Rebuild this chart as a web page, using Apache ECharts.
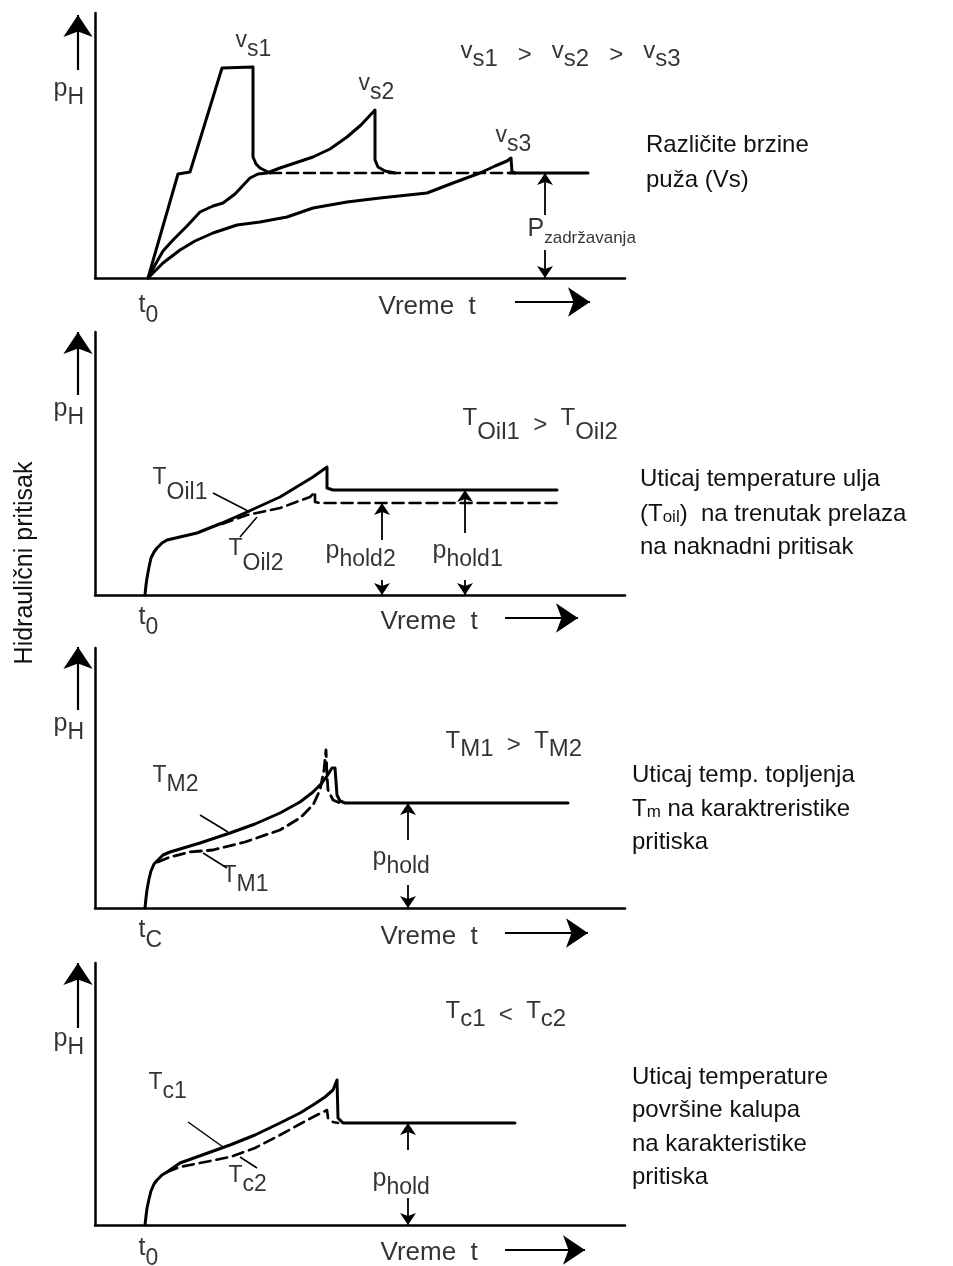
<!DOCTYPE html>
<html><head><meta charset="utf-8">
<script src="https://cdn.jsdelivr.net/npm/echarts@6/dist/echarts.min.js"></script>
<style>html,body{margin:0;padding:0;background:#fff}#c{width:953px;height:1266px}</style>
</head><body><div id="c"></div><script>
// ---- Data (time units / pressure units, schematic) ----
// Panel 1: different screw speeds
const vs1 = [[53,0],[83,104],[95,106],[127,210],[158,211],[158,121],[161,114],[165,110],[175,105]];
const vs2 = [[53,0],[60,13],[68,27],[78,38],[92,52],[105,66],[118,72],[128,75],[140,84],[155,100],[163,104],[172,105],[185,110],[200,115],[218,121],[235,129],[252,141],[266,153],[280,168],[280,118],[283,111],[290,107],[300,105]];
const vs3 = [[53,0],[68,15],[85,28],[100,37],[118,45],[142,53],[165,56],[192,61],[218,70],[252,76],[285,80],[332,85],[358,95],[385,105],[400,112],[412,117],[416,120],[417,106],[420,105]];
const hold1Dashed = [[175,105],[415,105]];
const hold1Solid = [[415,105],[493,105]];
// Panel 2: oil temperature
const toil1 = [[50,0],[51,10],[52,17],[54,28],[56,37],[59,43],[62,47],[67,52],[72,55],[102,62],[127,72],[152,83],[185,98],[218,118],[232,128],[232,107],[238,105],[462,105]];
const toil2 = [[127,71],[152,80],[185,87],[215,98],[220,103],[220,93],[225,92],[462,92]];
// Panel 3: melt temperature
const tm2 = [[50,0],[51,10],[52,18],[54,29],[56,37],[59,44],[63,48],[68,53],[75,56],[105,65],[135,75],[160,84],[185,95],[205,106],[218,116],[227,125],[232,132],[237,140],[240,140],[242,113],[245,107],[250,105],[473,105]];
const tm1 = [[63,46],[75,51],[95,56],[118,58],[150,66],[185,78],[205,90],[218,103],[225,118],[229,138],[231,158],[232,133],[233,118],[238,108],[245,105]];
// Panel 4: mould surface temperature
const tc1 = [[50,0],[51,9],[52,17],[54,26],[56,34],[59,41],[62,45],[67,50],[72,53],[85,62],[110,71],[135,80],[160,90],[185,102],[205,112],[218,120],[230,128],[238,135],[242,145],[243,107],[248,102],[420,102]];
const tc2 = [[72,53],[85,58],[110,63],[135,68],[160,77],[185,90],[205,101],[218,108],[232,115],[233,107],[238,103],[243,102]];

// Arrows [panel, from, to]
const holdArrows = [
  [0,[450,63],[450,105]],[0,[450,28],[450,0]],
  [1,[287,55],[287,92]],[1,[287,15],[287,0]],[1,[370,62],[370,105]],[1,[370,15],[370,0]],
  [2,[313,68],[313,105]],[2,[313,23],[313,0]],
  [3,[313,75],[313,102]],[3,[313,27],[313,0]]
];
const leaders = [
  [1,[118,102],[155,83]],[1,[145,58],[162,78]],
  [2,[105,93],[133,76]],[2,[132,40],[108,55]],
  [3,[93,103],[128,78]],[3,[162,57],[145,68]]
];
const yArrows = [[0,[-17,208],[-17,263]],[1,[-17,200],[-17,263]],[2,[-17,198],[-17,261]],[3,[-17,197],[-17,262]]];
const tArrows = [[0,[420,-24],[495,-24]],[1,[410,-23],[483,-23]],[2,[410,-25],[493,-25]],[3,[410,-25],[490,-25]]];

// Labels [panel, t, p, rich formatter]
const labels = [
  [0,140,233,'{m|v}{s|s1}'],[0,263,190,'{m|v}{s|s2}'],[0,400,138,'{m|v}{s|s3}'],
  [0,365,223,'{M|v}{S|s1}{G|   >   }{M|v}{S|s2}{G|   >   }{M|v}{S|s3}'],
  [0,432,46,'{P|P}{z|zadržavanja}'],
  [1,57,110,'{m|T}{s|Oil}{ss|1}'],[1,133,39,'{m|T}{s|Oil}{ss|2}'],
  [1,230,40,'{p|p}{s|hold2}'],[1,337,40,'{p|p}{s|hold1}'],
  [1,367,170,'{M|T}{S|Oil}{SS|1}{G|  >  }{M|T}{S|Oil}{SS|2}'],
  [2,57,128,'{m|T}{s|M2}'],[2,127,28,'{m|T}{s|M1}'],[2,277,46,'{p|p}{s|hold}'],
  [2,350,163,'{M|T}{S|M1}{G|  >  }{M|T}{S|M2}'],
  [3,53,138,'{m|T}{s|c1}'],[3,133,45,'{m|T}{s|c2}'],[3,277,42,'{p|p}{s|hold}'],
  [3,350,210,'{M|T}{S|c1}{G|  <  }{M|T}{S|c2}']
];
const axisLabels = [
  [0,-42,185,'{p|p}{s|H}'],[1,-42,182,'{p|p}{s|H}'],[2,-42,180,'{p|p}{s|H}'],[3,-42,182,'{p|p}{s|H}'],
  [0,43,-32,'{t|t}{s|0}'],[1,43,-27,'{t|t}{s|0}'],[2,43,-27,'{t|t}{s|C}'],[3,43,-28,'{t|t}{s|0}'],
  [0,283,-29,'{v|Vreme  t}'],[1,285,-27,'{v|Vreme  t}'],[2,285,-29,'{v|Vreme  t}'],[3,285,-28,'{v|Vreme  t}']
];
const notes = [
  [646,[['Različite brzine',148],['puža (Vs)',183]]],
  [640,[['Uticaj temperature ulja',482],['(T{sm|oil})  na trenutak prelaza',517],['na naknadni pritisak',550]]],
  [632,[['Uticaj temp. topljenja',778],['T{sm|m} na karaktreristike',812],['pritiska',845]]],
  [632,[['Uticaj temperature',1080],['površine kalupa',1113],['na karakteristike',1147],['pritiska',1180]]]
];

// ---- Layout ----
const panels = [{bottom:278,h:265},{bottom:595,h:263},{bottom:908,h:260},{bottom:1225,h:262}];
const XMAX = 530;
const INK = '#000';
const FONT = '"Liberation Sans", Arial, sans-serif';
function tok(size,lh,va){return {fontSize:size,lineHeight:lh,verticalAlign:va,color:INK,fontFamily:FONT};}
const rich = {
  m:tok(23,32,'top'), s:tok(23,32,'bottom'), ss:tok(23,38,'bottom'),
  M:tok(24,32,'top'), S:tok(24,32,'bottom'), SS:tok(24,38,'bottom'), G:tok(24,32,'middle'),
  p:tok(25,32,'top'), t:tok(25,34,'top'),
  P:tok(25,30,'top'), z:tok(17,30,'bottom'),
  v:tok(26,30,'middle')
};

const grid = panels.map(p=>({left:95,top:p.bottom-p.h,width:XMAX,height:p.h}));
const xAxis = panels.map((p,i)=>({type:'value',gridIndex:i,min:0,max:XMAX,
  axisLine:{show:true,onZero:false,lineStyle:{color:INK,width:2.5}},axisTick:{show:false},axisLabel:{show:false},splitLine:{show:false}}));
const yAxis = panels.map((p,i)=>({type:'value',gridIndex:i,min:0,max:p.h,
  axisLine:{show:true,onZero:false,lineStyle:{color:INK,width:2.5}},axisTick:{show:false},axisLabel:{show:false},splitLine:{show:false}}));

const series = [];
function curve(i,data,dashed,w){
  series.push({type:'line',xAxisIndex:i,yAxisIndex:i,data:data,showSymbol:false,symbol:'none',
    smooth:false,clip:false,lineStyle:{color:INK,width:w||3,type:dashed?[11,6]:'solid',cap:'round',join:'round'}});
}
curve(0,vs1); curve(0,vs2); curve(0,vs3); curve(0,hold1Dashed,true,2.6); curve(0,hold1Solid);
curve(1,toil1); curve(1,toil2,true,2.6);
curve(2,tm2); curve(2,tm1,true,2.8);
curve(3,tc1); curve(3,tc2,true,2.6);

for(let i=0;i<4;i++){
  const arr = holdArrows.filter(a=>a[0]===i).map(a=>({coords:[a[1],a[2]]}));
  series.push({type:'lines',coordinateSystem:'cartesian2d',xAxisIndex:i,yAxisIndex:i,clip:false,
    symbol:['none','arrow'],symbolSize:[7,12],lineStyle:{color:INK,width:1.8,opacity:1},data:arr});
  const ya = yArrows.filter(a=>a[0]===i).concat(tArrows.filter(a=>a[0]===i)).map(a=>({coords:[a[1],a[2]]}));
  series.push({type:'lines',coordinateSystem:'cartesian2d',xAxisIndex:i,yAxisIndex:i,clip:false,
    symbol:['none','arrow'],symbolSize:[8,22],lineStyle:{color:INK,width:2.2,opacity:1},data:ya});
  const ld = leaders.filter(a=>a[0]===i).map(a=>({coords:[a[1],a[2]]}));
  series.push({type:'lines',coordinateSystem:'cartesian2d',xAxisIndex:i,yAxisIndex:i,clip:false,
    symbol:'none',lineStyle:{color:INK,width:1.5,opacity:1},data:ld});
  const lb = labels.concat(axisLabels).filter(a=>a[0]===i).map(a=>({value:[a[1],a[2]],
    label:{show:true,position:'right',distance:0,color:INK,formatter:a[3],rich:rich}}));
  series.push({type:'scatter',xAxisIndex:i,yAxisIndex:i,clip:false,symbolSize:1,
    itemStyle:{color:'rgba(0,0,0,0)'},data:lb,silent:true});
}

const graphic = [];
notes.forEach(n=>{
  n[1].forEach(l=>{
    graphic.push({type:'text',left:n[0],top:l[1]-15,style:{text:l[0],font:'24px '+FONT,fill:'#111',
      rich:{sm:{fontSize:17,fontFamily:FONT,fill:'#111',verticalAlign:'bottom'}}}});
  });
});
graphic.push({type:'text',x:13,y:563,rotation:Math.PI/2,style:{text:'Hidraulični pritisak',font:'25px '+FONT,fill:'#111',align:'center',verticalAlign:'top'}});

const chart = echarts.init(document.getElementById('c'),null,{renderer:'canvas'});
chart.setOption({animation:false,backgroundColor:'#fff',grid,xAxis,yAxis,series,graphic});
</script></body></html>
